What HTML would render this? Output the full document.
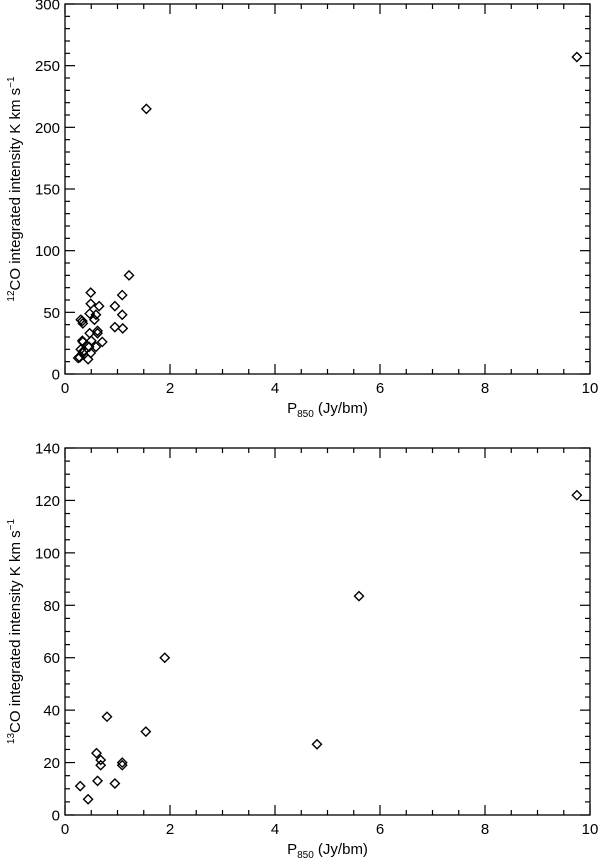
<!DOCTYPE html>
<html><head><meta charset="utf-8"><style>
html,body{margin:0;padding:0;background:#fff;}
svg{display:block;font-family:"Liberation Sans",sans-serif;}
</style></head><body>
<svg id="c" width="600" height="860" xmlns="http://www.w3.org/2000/svg"></svg>
<script>
const topX=[0.49,0.65,0.49,0.47,0.59,0.56,0.30,0.33,0.34,0.47,0.62,0.62,0.33,0.34,0.50,0.71,0.59,0.46,0.30,0.36,0.49,0.25,0.28,0.44,0.34,0.95,1.09,1.22,1.09,0.95,1.10,1.55,9.75];
const topY=[66,55,57,49,48,44,44,43,41,33,35,33,27,26,27,26,22,22,20,19,17,13,13.5,12,17,55,64,80,48,38,37,215,257];
const botX=[0.29,0.44,0.60,0.68,0.68,0.62,0.95,1.09,1.09,1.54,0.8,1.9,5.6,4.8,9.75];
const botY=[11,6,23.6,21,19,13,12,20,19,31.8,37.5,60,83.5,27,122];
const xTicks=[0,2,4,6,8,10];
const topYTicks=[0,50,100,150,200,250,300];
const botYTicks=[0,20,40,60,80,100,120,140];
const NS="http://www.w3.org/2000/svg";
const svg=document.getElementById('c');
function mk(t,a,p){const e=document.createElementNS(NS,t);for(const k in a)e.setAttribute(k,a[k]);(p||svg).appendChild(e);return e;}
function panel(cfg){
  const g=mk('g',{});
  
  
  const L=65,R=590,T=cfg.top,B=cfg.bottom;
  const sx=v=>L+(v-0)/(10)*(R-L);
  const sy=v=>B-v/cfg.ymax*(B-T);
  const frame=mk('rect',{x:L,y:T,width:R-L,height:B-T,fill:'none',stroke:'#000','stroke-width':1.3},g);
  
  
  for(let v=0;v<=10.001;v+=0.5){
    const maj=Math.abs(v-Math.round(v/2)*2)<1e-6;const len=maj?10:5;
    mk('line',{x1:sx(v),x2:sx(v),y1:B,y2:B-len,stroke:'#000','stroke-width':1.2},g);
    mk('line',{x1:sx(v),x2:sx(v),y1:T,y2:T+len,stroke:'#000','stroke-width':1.2},g);
  }
  xTicks.forEach(v=>{const t=mk('text',{x:sx(v),y:B+19,'text-anchor':'middle','font-size':15},g);t.textContent=v;
    });
  for(let v=0;v<=cfg.ymax+1e-6;v+=cfg.minor){
    const maj=Math.abs(v/cfg.major-Math.round(v/cfg.major))<1e-6;const len=maj?10:5;
    mk('line',{x1:L,x2:L+len,y1:sy(v),y2:sy(v),stroke:'#000','stroke-width':1.2},g);
    mk('line',{x1:R,x2:R-len,y1:sy(v),y2:sy(v),stroke:'#000','stroke-width':1.2},g);
  }
  cfg.yTicks.forEach(v=>{const t=mk('text',{x:L-5,y:sy(v)+5.5,'text-anchor':'end','font-size':15},g);t.textContent=v;
    });
  cfg.xs.forEach((x,i)=>{const cx=sx(x),cy=sy(cfg.ys[i]);
    const p=mk('polygon',{points:`${cx},${cy-4.5} ${cx+4.5},${cy} ${cx},${cy+4.5} ${cx-4.5},${cy}`,fill:'none',stroke:'#000','stroke-width':1.4},g);
    });
  const xl=mk('text',{x:(L+R)/2,y:B+39,'text-anchor':'middle','font-size':15},g);
  xl.innerHTML='P<tspan font-size="10" dy="4">850</tspan><tspan dy="-4"> (Jy/bm)</tspan>';
  
  const yl=mk('text',{transform:`translate(20,${(T+B)/2}) rotate(-90)`,'text-anchor':'middle','font-size':15},g);
  yl.innerHTML='<tspan font-size="10" dy="-6">'+cfg.iso+'</tspan><tspan dy="6">CO integrated intensity K km s</tspan><tspan font-size="10" dy="-6">−1</tspan>';
  
}
panel({name:'panel-12co',top:4,bottom:374,ymax:300,major:50,minor:10,yTicks:topYTicks,xs:topX,ys:topY,iso:'12'});
panel({name:'panel-13co',top:448,bottom:815,ymax:140,major:20,minor:5,yTicks:botYTicks,xs:botX,ys:botY,iso:'13'});
</script>
</body></html>
